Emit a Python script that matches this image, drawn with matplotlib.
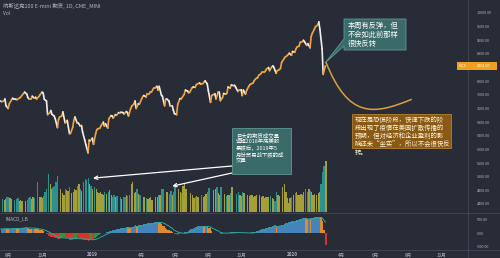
import numpy as np
import pandas as pd
import matplotlib
matplotlib.use("Agg")
import matplotlib.pyplot as plt
import matplotlib.dates as mdates
from matplotlib.path import Path
from matplotlib.patches import PathPatch, Polygon
from matplotlib.collections import LineCollection
from matplotlib.transforms import Affine2D

plt.rcParams['font.family'] = ['Noto Sans CJK SC', 'DejaVu Sans']

title = "纳斯达克100 E-mini 期货, 1D, CME_MINI"
start_date = "2018-07-17"

# closes sampled every 2 business days
close = [
    7420, 7400, 7420, 7480, 7280, 7200,
    7340, 7450, 7500, 7480, 7470, 7460, 7500, 7520, 7560, 7640, 7680,
    7620, 7520, 7480, 7480, 7560, 7500, 7530, 7480, 7550, 7600,
    7680, 7650, 7470, 7420, 7020, 7070, 7140, 7030, 6980, 6900, 6640, 6880,
    6950, 6980, 7100, 6780, 6800, 6850, 6460, 6470, 6650, 6850, 6950,
    6780, 6780, 6680, 6700, 6510, 6270, 6140, 5900, 6270, 6250,
    6330, 6150, 6470, 6580, 6600, 6630, 6700, 6800, 6680, 6750, 6630, 6900,
    6990, 6980, 6920, 7020, 7000, 7080, 7070, 7090, 7080, 7040,
    7110, 7080, 6980, 7200, 7270, 7330, 7420, 7200, 7340, 7330,
    7480, 7550, 7580, 7540, 7630, 7630, 7680, 7680, 7800, 7800, 7850,
    7740, 7850, 7600, 7560, 7280, 7470, 7480, 7420, 7280, 7280, 7150, 7050,
    7020, 7320, 7490, 7480, 7520, 7620, 7740, 7710, 7660, 7680,
    7800, 7830, 7820, 7900, 7920, 7950, 7910, 7930, 7970, 8010, 7920,
    7720, 7380, 7580, 7600, 7630, 7480, 7680, 7680, 7430, 7520, 7640,
    7620, 7650, 7830, 7800, 7890, 7870, 7880, 7820, 7700, 7740, 7750,
    7580, 7740, 7620, 7730, 7850, 7900, 7920, 7950, 8020, 8090, 8100,
    8170, 8220, 8260, 8260, 8290, 8350, 8400, 8310, 8420, 8450, 8400,
    8230, 8310, 8340, 8380, 8550, 8650, 8700, 8750, 8780, 8820, 8760,
    8870, 8850, 8940, 9000, 9030, 9140, 9160, 9200, 9150, 9050, 9100,
    8980, 9310, 9400, 9530, 9600, 9650, 9740, 9520, 8950, 8200, 8454,
]

volume = [
    380, 350, 330, 360, 420, 400,
    390, 360, 340, 330, 350, 380, 300, 320, 290, 330, 310,
    320, 380, 420, 360, 400, 380, 750, 820, 400, 420,
    380, 450, 560, 640, 1050, 780, 640, 700, 720, 820, 1000, 760,
    620, 520, 480, 620, 600, 580, 700, 520, 560, 640, 600,
    720, 760, 640, 580, 820, 900, 880, 930, 760, 720,
    640, 700, 620, 560, 520, 540, 500, 480, 540, 500, 560, 600,
    480, 420, 460, 420, 440, 380, 400, 360, 400, 420,
    460, 440, 480, 760, 820, 520, 560, 640, 500, 460,
    460, 420, 400, 380, 360, 380, 400, 340, 380, 420, 400,
    480, 460, 620, 640, 760, 560, 540, 500, 580, 480, 560, 720,
    700, 620, 560, 520, 720, 780, 640, 480, 500, 520,
    480, 380, 420, 440, 400, 420, 460, 400, 440, 500, 560,
    660, 820, 700, 600, 640, 680, 520, 480, 700, 560, 500,
    440, 480, 460, 520, 700, 760, 520, 500, 540, 480, 440,
    560, 520, 500, 460, 440, 480, 460, 420, 440, 460, 440,
    460, 420, 440, 380, 400, 420, 400, 440, 380, 360, 300,
    560, 480, 440, 460, 700, 780, 560, 380, 260, 380, 400,
    460, 520, 540, 460, 480, 500, 460, 560, 620, 560, 620,
    580, 560, 480, 500, 480, 520, 560, 760, 1100, 1250, 1400,
]

imacd = [
    150, 160, 170, 190, 170, 150,
    160, 170, 180, 190, 180, 170, 180, 190, 200, 210, 220,
    210, 190, 170, 160, 170, 160, 150, 140, 120, 110,
    100, 60, 10, -30, -120, -150, -140, -160, -180, -200, -240, -220,
    -200, -180, -150, -180, -190, -200, -250, -260, -240, -220, -190,
    -200, -210, -230, -240, -250, -270, -280, -300, -270, -240,
    -240, -210, -160, -110, -60, -20, 0, 0, 10, 20, 40, 60,
    80, 100, 110, 130, 150, 170, 180, 190, 200, 210,
    220, 215, 200, 230, 250, 270, 290, 280, 290, 300,
    320, 340, 350, 350, 370, 380, 390, 400, 420, 430, 440,
    420, 410, 330, 280, 180, 150, 130, 100, 60, 40, 0, -40,
    -60, -40, -10, 0, 0, 20, 50, 80, 110, 140,
    170, 200, 220, 240, 260, 270, 280, 270, 260, 270, 240,
    180, 60, 10, 0, 0, -10, 0, 0, -20, -10, 0,
    0, 0, 10, 20, 20, 30, 30, 20, 10, 0, 0,
    -10, 0, 0, 0, 0, 10, 20, 30, 50, 70, 90,
    110, 140, 160, 170, 190, 210, 230, 240, 260, 280, 290,
    270, 270, 280, 290, 320, 350, 380, 400, 420, 440, 450,
    470, 480, 500, 510, 520, 540, 560, 570, 560, 540, 550,
    540, 560, 580, 600, 610, 620, 630, 600, 480, 100, -450,
]

price_ticks = [4400, 4800, 5200, 5600, 6000, 6400, 6800, 7200, 7600, 8000,
               8800, 9200, 9600, 10000]
macd_ticks = [-500, 0, 500]
month_ticks = ["2018-08-01", "2018-10-01", "2019-01-01", "2019-04-01", "2019-06-01",
               "2019-08-01", "2019-10-01", "2020-01-01", "2020-04-01", "2020-06-01",
               "2020-08-01", "2020-10-01"]
month_labels = ["8月", "10月", "2019", "4月", "6月", "8月", "10月", "2020", "4月", "6月", "8月", "10月"]
proj_dates = ["2020-03-03", "2020-04-13", "2020-05-28", "2020-08-07"]
proj_prices = [8560, 6910, 7000, 7470]
arrow_dates = ["2019-01-02", "2019-05-27"]
arrow_vols = [930, 710]
last_price = 8454
symbol_tag = "NQ1!"

note1 = "本周有反弹，但\n不会如此前那样\n很快反转"
note2 = ("现在是恐慌阶段，快速下跌的阶\n段出现了疫情在美国扩散传播的\n预期，但对经济和企业盈利的影\n"
         "响还未“坐实”，所以不会很快反\n转。")
note3 = "巨大的期货成交量\n远超2018年底美股\n暴跌后，2019年5\n月份贸易战下跌的成\n交量"

# ---------------------------------------------------------------
W, H = 500, 258
BG = "#282c37"
SEP = "#454955"
TXT = "#b2b5be"

fig = plt.figure(figsize=(W / 100, H / 100), dpi=100, facecolor=BG)
PX = Affine2D().scale(1 / W, -1 / H).translate(0, 1) + fig.transFigure

def rect(x0, y0, x1, y1):
    return [x0 / W, 1 - y1 / H, (x1 - x0) / W, (y1 - y0) / H]

dates = pd.date_range(start_date, periods=len(close), freq="2B")
xd = mdates.date2num(dates)
step = np.diff(xd, append=xd[-1] + 2.8)
close_a = np.array(close, float)
vol_a = np.array(volume, float)
mac_a = np.array(imacd, float)

xlim = (mdates.date2num(pd.Timestamp("2018-07-16")), mdates.date2num(pd.Timestamp("2020-11-16")))

axv = fig.add_axes(rect(0, 0, 467, 212), facecolor=BG, zorder=1)
ax = fig.add_axes(rect(0, 0, 467, 212), zorder=2)
ax.patch.set_alpha(0)
axm = fig.add_axes(rect(0, 213, 467, 249), facecolor=BG, zorder=1)

for a in (axv, ax, axm):
    a.set_xlim(*xlim)
    for s in a.spines.values():
        s.set_visible(False)

# volume
diff = np.diff(close_a, prepend=close_a[0])
vcol = np.where(diff >= 0, "#b3ad3a", "#2f9c98")
axv.bar(xd, vol_a, width=step * 0.75, align="edge", color=vcol, alpha=0.9, linewidth=0)
axv.set_ylim(0, 5820)
axv.set_xticks([]); axv.set_yticks([])

# price as direction-coloured line
pts = np.column_stack([xd, close_a])
segs = np.stack([pts[:-1], pts[1:]], axis=1)
scol = np.where(np.diff(close_a) >= 0, "#f2a33a", "#eeeeee")
ax.add_collection(LineCollection(segs, colors=scol, linewidths=1.2, capstyle="round"))
ax.set_ylim(4165, 10381)
ax.yaxis.tick_right()
ax.set_yticks(price_ticks)
ax.set_yticklabels([f"{t:.2f}" for t in price_ticks])
ax.tick_params(axis="y", length=0, pad=7, labelsize=2.7, labelcolor=TXT)
ax.set_xticks([])

# projection curve
pp = np.column_stack([mdates.date2num(pd.to_datetime(proj_dates)), proj_prices])
ax.add_patch(PathPatch(Path(pp, [Path.MOVETO, Path.CURVE4, Path.CURVE4, Path.CURVE4]),
                       facecolor="none", edgecolor="#d9a040", lw=1.1, zorder=3))

# last price tag
py_last = ax.transData.transform((xd[-1], last_price))[1]
ypx = H - py_last
fig.add_artist(Polygon([[457, ypx - 4], [497, ypx - 4], [497, ypx + 4], [457, ypx + 4]],
                       closed=True, transform=PX, facecolor="#f0a020", edgecolor="none", zorder=5))
fig.text(459 / W, 1 - ypx / H, symbol_tag, fontsize=2.5, color="#fff6e0", va="center", zorder=6)
fig.text(477 / W, 1 - ypx / H, f"{last_price:.2f}", fontsize=2.7, color="#ffffff", va="center", zorder=6)

# macd (continuous coloured columns)
md_diff = np.diff(mac_a, prepend=mac_a[0])
mcol = np.where(mac_a >= 0, np.where(md_diff >= 0, "#4683bd", "#e08a2e"),
                np.where(md_diff <= 0, "#d8322b", "#2e9440"))
axm.bar(xd, mac_a, width=step, align="edge", color=mcol, linewidth=0)
sig = pd.Series(mac_a).rolling(9, min_periods=1).mean().values
axm.plot(xd, sig, color="#2aa89f", lw=0.7)
axm.set_ylim(-615, 769)
axm.yaxis.tick_right()
axm.set_yticks(macd_ticks)
axm.set_yticklabels([f"{t:.2f}" for t in macd_ticks])
axm.tick_params(axis="y", length=0, pad=7, labelsize=2.7, labelcolor=TXT)
axm.set_xticks(mdates.date2num(pd.to_datetime(month_ticks)))
axm.set_xticklabels(month_labels)
axm.tick_params(axis="x", length=0, pad=2.5, labelsize=3.3, labelcolor=TXT)
for lab in axm.get_xticklabels():
    if lab.get_text().isdigit():
        lab.set_fontweight("bold")

# separators
for y in (212.5, 249.5):
    fig.add_artist(plt.Line2D([0, 1], [1 - y / H] * 2, color=SEP, lw=0.6))
fig.add_artist(plt.Line2D([467.5 / W] * 2, [0, 1], color=SEP, lw=0.6))

# header texts
fig.text(3 / W, 1 - 5.5 / H, title, fontsize=3.9, color=TXT, va="center")
fig.text(3 / W, 1 - 13.5 / H, "Vol", fontsize=3.6, color=TXT, va="center")
fig.text(5 / W, 1 - 219 / H, "IMACD_LB", fontsize=3.4, color=TXT, va="center")

# callout 1 (teal, with tail)
tx, ty = 325, 63
fig.add_artist(Polygon([[344, 19], [406, 19], [406, 50], [344, 50], [344, 46], [tx, ty], [344, 39]],
                       closed=True, transform=PX, facecolor="#3a6b69", edgecolor="#5d9995",
                       lw=0.6, zorder=6))
fig.text(348 / W, 1 - 22 / H, note1, fontsize=5.2, color="#ffffff", va="top", linespacing=1.15, zorder=7)

# callout 2 (gold)
fig.add_artist(Polygon([[352, 114], [451, 114], [451, 148], [352, 148]], closed=True, transform=PX,
                       facecolor="#8a5a14", edgecolor="#b5822e", lw=0.6, zorder=6))
fig.text(355 / W, 1 - 115.5 / H, note2, fontsize=4.6, color="#fff4dc", va="top", linespacing=1.05, zorder=7)

# callout 3 (teal) with arrows to volume
bx0, by0, bx1, by1 = 232, 128, 291, 174
fig.add_artist(Polygon([[bx0, by0], [bx1, by0], [bx1, by1], [bx0, by1]], closed=True, transform=PX,
                       facecolor="#3a6b69", edgecolor="#5d9995", lw=0.6, zorder=6))
fig.text((bx0 + 4) / W, 1 - (by0 + 4) / H, note3, fontsize=3.9, color="#ffffff", va="top",
         linespacing=1.15, zorder=7)
starts = [(bx0, 166), (bx0, 173)]
for (sx, sy), d, v in zip(starts, arrow_dates, arrow_vols):
    tgt = axv.transData.transform((mdates.date2num(pd.Timestamp(d)), v))
    axv.annotate("", xy=tgt, xycoords="figure pixels",
                 xytext=(sx, H - sy), textcoords="figure pixels",
                 arrowprops=dict(arrowstyle="->", color="#ffffff", lw=0.9,
                                 mutation_scale=6, shrinkA=0, shrinkB=0),
                 zorder=8, annotation_clip=False)

fig.savefig("out.png", dpi=100, facecolor=BG)
